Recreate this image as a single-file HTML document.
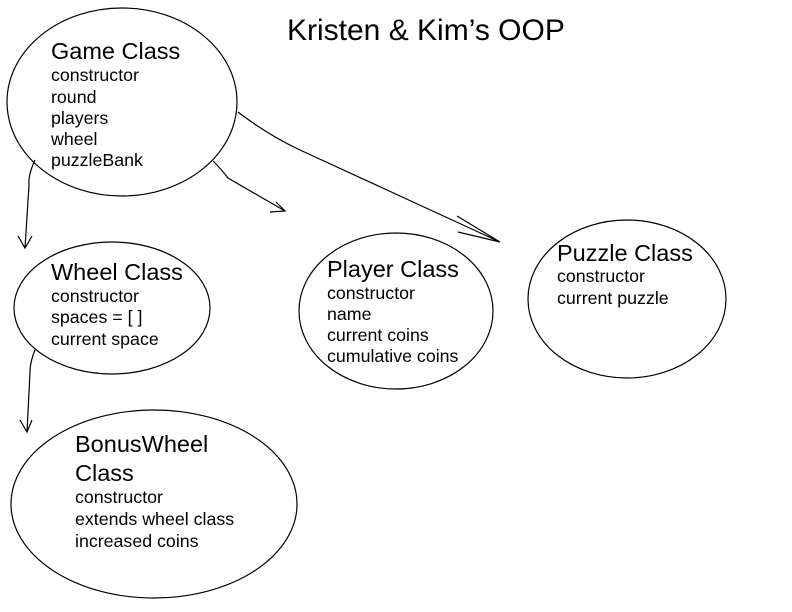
<!DOCTYPE html>
<html><head><meta charset="utf-8"><style>
body{margin:0;background:#fff;}
svg{display:block;font-family:"Liberation Sans",Arial,sans-serif;}
.h{font-size:23.5px}.t{font-size:17.8px}
</style></head><body>
<svg width="792" height="612" viewBox="0 0 792 612" xmlns="http://www.w3.org/2000/svg">
<rect width="792" height="612" fill="#fff"/>
<g fill="none" stroke="#000" stroke-width="1.2">
<ellipse cx="122" cy="102" rx="115" ry="94"/>
<ellipse cx="112" cy="308" rx="98" ry="66"/>
<ellipse cx="396" cy="311" rx="97" ry="78"/>
<ellipse cx="627" cy="299" rx="99" ry="79"/>
<ellipse cx="154" cy="504" rx="143" ry="94"/>
<path d="M35 160 Q28 175 29 185 L25 248 M18 236 L25 248 L32 236"/>
<path d="M213 161 Q222 170 228 178 L285 211 M276 202 L285 211 L270 212"/>
<path d="M238 112 Q268 135 300 150 L500 242 M457 216 L500 242 L458 232"/>
<path d="M35 350 Q30 362 30 372 L27 432 M20 420 L27 432 L32 420"/>
</g>
<g fill="#000">
<text x="287" y="40" style="font-size:30px">Kristen &amp; Kim’s OOP</text>
<text x="51" y="59" class="h">Game Class</text>
<text x="51" y="81" class="t">constructor</text>
<text x="51" y="103" class="t">round</text>
<text x="51" y="124" class="t">players</text>
<text x="51" y="145" class="t">wheel</text>
<text x="51" y="166" class="t">puzzleBank</text>
<text x="51" y="280" class="h">Wheel Class</text>
<text x="51" y="302" class="t">constructor</text>
<text x="51" y="323" class="t">spaces = [ ]</text>
<text x="51" y="345" class="t">current space</text>
<text x="327" y="277" class="h">Player Class</text>
<text x="327" y="299" class="t">constructor</text>
<text x="327" y="320" class="t">name</text>
<text x="327" y="341" class="t">current coins</text>
<text x="327" y="362" class="t">cumulative coins</text>
<text x="557" y="261" class="h">Puzzle Class</text>
<text x="557" y="282" class="t">constructor</text>
<text x="557" y="304" class="t">current puzzle</text>
<text x="75" y="452" class="h">BonusWheel</text>
<text x="75" y="481" class="h">Class</text>
<text x="75" y="503" class="t">constructor</text>
<text x="75" y="525" class="t">extends wheel class</text>
<text x="75" y="547" class="t">increased coins</text>
</g>
</svg>
</body></html>
